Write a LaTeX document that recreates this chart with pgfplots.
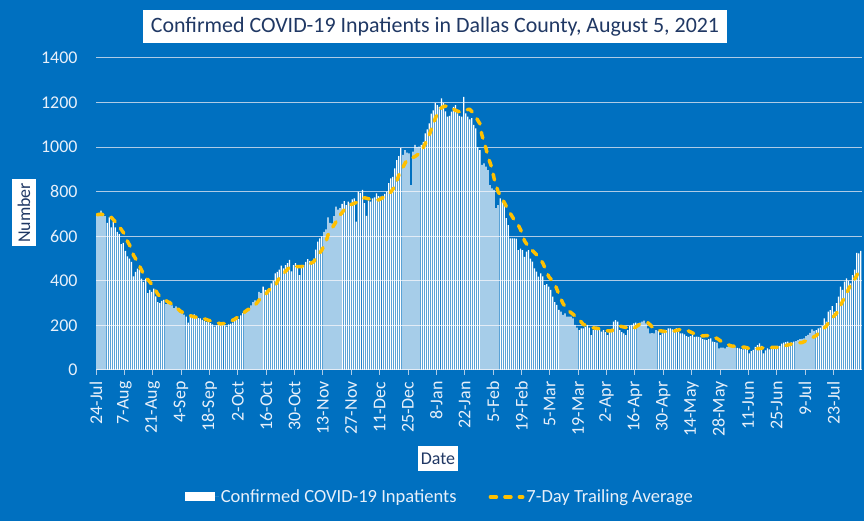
\documentclass[border=0pt]{standalone}
\usepackage{pgfplots}
\pgfplotsset{compat=1.18}
\usepackage{fontspec}
\setmainfont{Carlito}
\definecolor{bgblue}{RGB}{0,112,192}
\definecolor{navy}{RGB}{32,56,100}
\definecolor{avgyellow}{RGB}{255,192,0}
\definecolor{gridc}{RGB}{175,203,230}
\definecolor{lbl}{RGB}{232,240,250}
\begin{document}
\begin{tikzpicture}[x=1bp,y=1bp]
\path[use as bounding box, fill=bgblue] (0,0) rectangle (864,521);
\begin{axis}[
  at={(96bp,151bp)}, anchor=south west,
  scale only axis, width=765.7bp, height=312bp,
  xmin=-0.5, xmax=377.5, ymin=0, ymax=1400,
  axis line style={draw=none},
  ytick={0,200,...,1400},
  ymajorgrids, grid style={gridc, line width=1bp},
  ytick style={draw=none},
  xtick pos=bottom, ytick pos=left,
  tick align=outside, major tick length=5bp,
  xtick style={draw=gridc, line width=0.8bp},
  xtick={-0.5,13.5,...,363.5},
  xticklabels={24-Jul,7-Aug,21-Aug,4-Sep,18-Sep,2-Oct,16-Oct,30-Oct,13-Nov,27-Nov,11-Dec,25-Dec,8-Jan,22-Jan,5-Feb,19-Feb,5-Mar,19-Mar,2-Apr,16-Apr,30-Apr,14-May,28-May,11-Jun,25-Jun,9-Jul,23-Jul},
  /pgf/number format/assume math mode=true,
  /pgf/number format/1000 sep={},
  every tick label/.append style={font=\fontsize{18}{18}\selectfont, text=lbl},
  xticklabel style={rotate=90, anchor=east},
  xticklabel shift=3bp,
  yticklabel style={xshift=-10bp},
  legend style={at={(axis description cs:0.449,-0.407)}, anchor=center, draw=none, fill=none,
    text=lbl, font=\fontsize{18.6}{18.6}\selectfont, legend columns=2,
    /tikz/every even column/.append style={column sep=30bp}},
  legend cell align=left,
]
\addplot[ybar, bar width=0.62, fill=white, draw=none, bar shift=0pt,
  legend image code/.code={\fill[white] (0bp,-4.5bp) rectangle (30bp,4.5bp); \path (0bp,0bp) -- (34bp,0bp);}]
coordinates {
(0,700)(1,705)(2,715)(3,695)(4,690)(5,660)(6,685)(7,640)(8,665)(9,640)
(10,620)(11,610)(12,565)(13,570)(14,535)(15,510)(16,500)(17,485)(18,420)(19,440)
(20,455)(21,450)(22,410)(23,395)(24,410)(25,345)(26,360)(27,350)(28,365)(29,330)
(30,305)(31,300)(32,310)(33,315)(34,295)(35,300)(36,310)(37,290)(38,278)(39,285)
(40,278)(41,258)(42,265)(43,248)(44,240)(45,212)(46,250)(47,245)(48,250)(49,240)
(50,233)(51,232)(52,225)(53,220)(54,215)(55,218)(56,210)(57,205)(58,195)(59,200)
(60,202)(61,203)(62,205)(63,200)(64,195)(65,205)(66,208)(67,212)(68,220)(69,232)
(70,228)(71,245)(72,255)(73,265)(74,270)(75,278)(76,290)(77,305)(78,312)(79,300)
(80,350)(81,345)(82,374)(83,360)(84,358)(85,365)(86,389)(87,400)(88,434)(89,440)
(90,450)(91,468)(92,456)(93,470)(94,480)(95,494)(96,442)(97,470)(98,480)(99,470)
(100,426)(101,460)(102,472)(103,485)(104,498)(105,490)(106,480)(107,500)(108,540)(109,576)
(110,591)(111,600)(112,620)(113,631)(114,685)(115,660)(116,658)(117,690)(118,733)(119,720)
(120,726)(121,745)(122,758)(123,740)(124,755)(125,750)(126,766)(127,770)(128,666)(129,800)
(130,795)(131,808)(132,749)(133,691)(134,760)(135,755)(136,770)(137,775)(138,793)(139,780)
(140,778)(141,781)(142,790)(143,800)(144,838)(145,860)(146,867)(147,905)(148,942)(149,960)
(150,995)(151,965)(152,987)(153,975)(154,972)(155,830)(156,980)(157,1010)(158,1000)(159,1002)
(160,1010)(161,1024)(162,1062)(163,1080)(164,1107)(165,1150)(166,1165)(167,1199)(168,1189)(169,1181)
(170,1219)(171,1197)(172,1160)(173,1137)(174,1140)(175,1159)(176,1181)(177,1189)(178,1152)(179,1140)
(180,1137)(181,1226)(182,1152)(183,1137)(184,1124)(185,1130)(186,1100)(187,1084)(188,1000)(189,987)
(190,920)(191,927)(192,912)(193,897)(194,830)(195,815)(196,808)(197,726)(198,740)(199,770)
(200,755)(201,740)(202,681)(203,650)(204,591)(205,591)(206,591)(207,590)(208,538)(209,545)
(210,538)(211,508)(212,531)(213,538)(214,500)(215,486)(216,456)(217,441)(218,419)(219,434)
(220,420)(221,381)(222,385)(223,374)(224,359)(225,329)(226,305)(227,292)(228,270)(229,262)
(230,247)(231,254)(232,239)(233,240)(234,239)(235,232)(236,202)(237,190)(238,179)(239,187)
(240,187)(241,194)(242,202)(243,190)(244,157)(245,179)(246,187)(247,182)(248,179)(249,172)
(250,179)(251,170)(252,157)(253,172)(254,185)(255,217)(256,224)(257,217)(258,179)(259,170)
(260,164)(261,157)(262,179)(263,197)(264,202)(265,209)(266,212)(267,209)(268,212)(269,217)
(270,221)(271,209)(272,187)(273,164)(274,165)(275,164)(276,179)(277,176)(278,157)(279,164)
(280,170)(281,179)(282,187)(283,187)(284,182)(285,180)(286,187)(287,172)(288,164)(289,164)
(290,160)(291,152)(292,149)(293,152)(294,157)(295,149)(296,150)(297,149)(298,146)(299,138)
(300,136)(301,134)(302,138)(303,142)(304,127)(305,125)(306,123)(307,97)(308,100)(309,100)
(310,97)(311,104)(312,108)(313,106)(314,104)(315,101)(316,99)(317,97)(318,95)(319,93)
(320,97)(321,90)(322,75)(323,85)(324,90)(325,104)(326,112)(327,120)(328,108)(329,75)
(330,88)(331,97)(332,93)(333,100)(334,104)(335,106)(336,108)(337,108)(338,118)(339,123)
(340,125)(341,127)(342,120)(343,124)(344,127)(345,130)(346,134)(347,138)(348,140)(349,142)
(350,152)(351,158)(352,167)(353,182)(354,176)(355,179)(356,187)(357,190)(358,197)(359,232)
(360,217)(361,262)(362,269)(363,287)(364,262)(365,300)(366,329)(367,374)(368,359)(369,396)
(370,411)(371,400)(372,389)(373,426)(374,450)(375,526)(376,523)(377,534)
};
\addlegendentry{Confirmed COVID-19 Inpatients}
\addplot[avgyellow, line width=3.5bp, dash pattern=on 6bp off 8.5bp, line cap=round, line join=round,
  legend image code/.code={\draw[avgyellow, line width=3.5bp, dash pattern=on 6bp off 8.5bp, line cap=round] (1.75bp,0bp) -- (34bp,0bp);}]
coordinates {
(0,697)(2,699)(4,696)(7,685)(10,656)(12,630)(14,604)(15,578)(17,545)(18,515)
(20,485)(22,448)(23,428)(26,396)(28,372)(30,340)(32,322)(35,306)(38,291)(41,265)
(44,250)(48,238)(51,236)(55,223)(58,216)(61,207)(64,210)(68,228)(71,247)(74,268)
(78,290)(80,314)(83,337)(85,360)(88,378)(90,415)(93,442)(95,462)(98,464)(101,464)
(105,476)(107,486)(109,514)(111,538)(113,575)(114,605)(116,636)(118,665)(120,695)(122,718)
(125,740)(127,748)(130,758)(132,773)(135,766)(139,763)(142,778)(145,798)(147,823)(149,875)
(152,927)(153,942)(157,958)(160,978)(163,1035)(164,1054)(167,1129)(169,1170)(171,1182)(173,1185)
(175,1175)(177,1165)(179,1158)(181,1166)(184,1170)(186,1150)(189,1105)(190,1054)(192,995)(193,957)
(195,905)(196,860)(198,800)(200,770)(202,735)(204,703)(206,673)(208,650)(210,612)(211,580)
(213,553)(215,535)(218,508)(220,481)(222,441)(223,419)(226,386)(228,340)(230,299)(232,272)
(235,250)(238,227)(240,205)(244,190)(247,187)(251,176)(254,176)(258,197)(261,191)(265,187)
(268,206)(272,212)(274,194)(278,176)(281,172)(285,175)(288,182)(292,175)(295,162)(299,153)
(302,155)(306,142)(309,123)(313,108)(316,105)(320,102)(322,96)(327,96)(330,102)(334,101)
(337,102)(341,112)(344,120)(348,123)(351,135)(355,154)(357,172)(360,197)(362,224)(365,254)
(366,269)(368,307)(370,344)(372,381)(374,407)(376,440)(377,460)
};
\addlegendentry{7-Day Trailing Average}
\end{axis}
\node[fill=white, text=navy, font=\fontsize{22}{26}\selectfont, minimum width=584bp, minimum height=33bp, inner sep=0pt] at (435,494) {Confirmed COVID-19 Inpatients in Dallas County, August 5, 2021};
\node[fill=white, text=navy, font=\fontsize{18}{18}\selectfont, rotate=90, minimum width=67bp, minimum height=24bp, inner sep=0pt] at (24,308) {Number};
\node[fill=white, text=navy, font=\fontsize{18}{18}\selectfont, minimum width=40bp, minimum height=25bp, inner sep=0pt] at (438,62) {Date};
\end{tikzpicture}
\end{document}
